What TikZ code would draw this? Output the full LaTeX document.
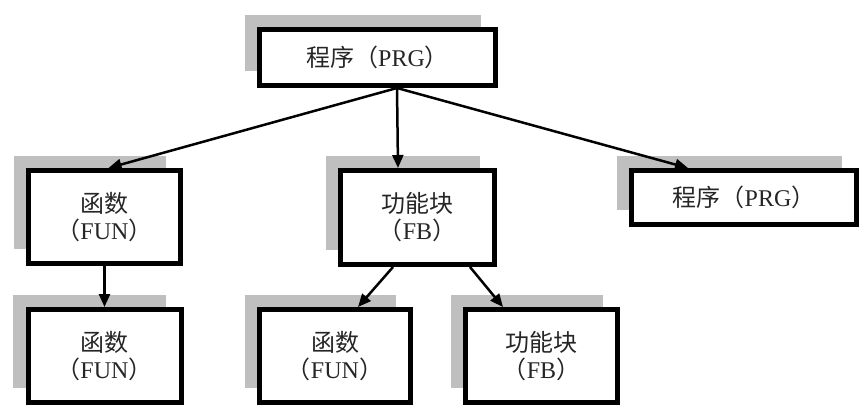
\documentclass[tikz,border=0pt]{standalone}
\usepackage{fontspec}
\setmainfont{Liberation Serif}
\newfontfamily\cjk{Noto Sans CJK SC}
\usetikzlibrary{arrows.meta,shadows,calc}
\begin{document}
\begin{tikzpicture}[x=1pt,y=-1pt,
  box/.style={draw, line width=5pt, fill=white, inner sep=0pt, align=center,
    font=\fontsize{24}{27}\selectfont, text=black!85,
    drop shadow={shadow xshift=-15pt, shadow yshift=15pt, fill=black!25, opacity=1}},
  arr/.style={-{Triangle[length=13pt,width=11pt]}, line width=2.5pt}]
\useasboundingbox (0,0) rectangle (861,407);
\node[box, minimum width=236pt, minimum height=56pt] (prg) at (377.5,57.5) {{\cjk 程序（}PRG{\cjk ）}};
\node[box, minimum width=152pt, minimum height=93pt] (fun1) at (104.5,217) {{\cjk 函数}\\{\cjk （}FUN{\cjk ）}};
\node[box, minimum width=154pt, minimum height=94pt] (fb) at (417.5,217.5) {{\cjk 功能块}\\{\cjk （}FB{\cjk ）}};
\node[box, minimum width=225pt, minimum height=54pt] (prg2) at (744,197.5) {{\cjk 程序（}PRG{\cjk ）}};
\node[box, minimum width=153pt, minimum height=93pt] (fun2) at (104.5,356) {{\cjk 函数}\\{\cjk （}FUN{\cjk ）}};
\node[box, minimum width=151pt, minimum height=93pt] (fun3) at (335,356) {{\cjk 函数}\\{\cjk （}FUN{\cjk ）}};
\node[box, minimum width=152pt, minimum height=93pt] (fb2) at (541.5,356) {{\cjk 功能块}\\{\cjk （}FB{\cjk ）}};
\coordinate (src) at ($(prg.south)+(19.5,0)$);
\draw[arr] (src) -- ($(fun1.north)+(4,0)$);
\draw[arr] (src) -- ($(fb.north)+(-19.5,0)$);
\draw[arr] (src) -- ($(prg2.north)+(-56,0)$);
\draw[arr] (fun1.south) -- (fun2.north);
\draw[arr] ($(fb.south)+(-24.5,0)$) -- ($(fun3.north)+(23,0)$);
\draw[arr] ($(fb.south)+(52.5,0)$) -- ($(fb2.north)+(-38.5,0)$);
\end{tikzpicture}
\end{document}
